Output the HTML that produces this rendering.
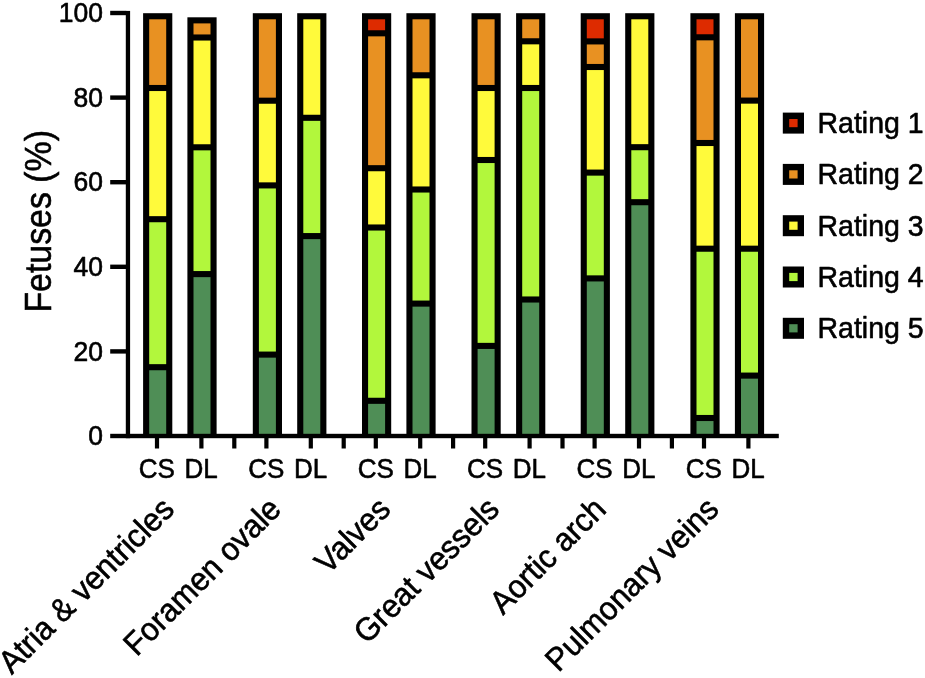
<!DOCTYPE html>
<html lang="en"><head><meta charset="utf-8"><title>Fetuses rating chart</title>
<style>html,body{margin:0;padding:0;background:#fff}body{width:925px;height:678px;overflow:hidden}svg{display:block}text{font-family:"Liberation Sans",Arial,Helvetica,sans-serif;fill:#000}</style></head><body>
<svg width="925" height="678" viewBox="0 0 925 678">
<rect width="925" height="678" fill="#fff"/>
<g>
<rect x="143.10" y="13.20" width="29.2" height="422.80" fill="#000"/>
<rect x="149.20" y="19.30" width="17.00" height="65.65" fill="#E89122"/>
<rect x="149.20" y="91.05" width="17.00" height="125.10" fill="#FFFA3B"/>
<rect x="149.20" y="222.25" width="17.00" height="141.90" fill="#B2F73C"/>
<rect x="149.20" y="370.25" width="17.00" height="65.75" fill="#4F8E56"/>
<rect x="187.40" y="17.30" width="29.2" height="418.70" fill="#000"/>
<rect x="193.50" y="23.40" width="17.00" height="11.05" fill="#E89122"/>
<rect x="193.50" y="40.55" width="17.00" height="103.70" fill="#FFFA3B"/>
<rect x="193.50" y="150.35" width="17.00" height="120.70" fill="#B2F73C"/>
<rect x="193.50" y="277.15" width="17.00" height="158.85" fill="#4F8E56"/>
<rect x="252.80" y="13.20" width="29.2" height="422.80" fill="#000"/>
<rect x="258.90" y="19.30" width="17.00" height="78.35" fill="#E89122"/>
<rect x="258.90" y="103.75" width="17.00" height="78.60" fill="#FFFA3B"/>
<rect x="258.90" y="188.45" width="17.00" height="163.10" fill="#B2F73C"/>
<rect x="258.90" y="357.65" width="17.00" height="78.35" fill="#4F8E56"/>
<rect x="297.20" y="13.20" width="29.2" height="422.80" fill="#000"/>
<rect x="303.30" y="19.30" width="17.00" height="95.45" fill="#FFFA3B"/>
<rect x="303.30" y="120.85" width="17.00" height="112.20" fill="#B2F73C"/>
<rect x="303.30" y="239.15" width="17.00" height="196.85" fill="#4F8E56"/>
<rect x="362.00" y="13.20" width="29.2" height="422.80" fill="#000"/>
<rect x="368.10" y="19.30" width="17.00" height="10.95" fill="#DD2B00"/>
<rect x="368.10" y="36.35" width="17.00" height="128.80" fill="#E89122"/>
<rect x="368.10" y="171.25" width="17.00" height="53.20" fill="#FFFA3B"/>
<rect x="368.10" y="230.55" width="17.00" height="167.20" fill="#B2F73C"/>
<rect x="368.10" y="403.85" width="17.00" height="32.15" fill="#4F8E56"/>
<rect x="406.40" y="13.20" width="29.2" height="422.80" fill="#000"/>
<rect x="412.50" y="19.30" width="17.00" height="52.95" fill="#E89122"/>
<rect x="412.50" y="78.35" width="17.00" height="108.10" fill="#FFFA3B"/>
<rect x="412.50" y="192.55" width="17.00" height="108.00" fill="#B2F73C"/>
<rect x="412.50" y="306.65" width="17.00" height="129.35" fill="#4F8E56"/>
<rect x="471.50" y="13.20" width="29.2" height="422.80" fill="#000"/>
<rect x="477.60" y="19.30" width="17.00" height="65.65" fill="#E89122"/>
<rect x="477.60" y="91.05" width="17.00" height="65.90" fill="#FFFA3B"/>
<rect x="477.60" y="163.05" width="17.00" height="179.80" fill="#B2F73C"/>
<rect x="477.60" y="348.95" width="17.00" height="87.05" fill="#4F8E56"/>
<rect x="516.10" y="13.20" width="29.2" height="422.80" fill="#000"/>
<rect x="522.20" y="19.30" width="17.00" height="18.95" fill="#E89122"/>
<rect x="522.20" y="44.35" width="17.00" height="40.60" fill="#FFFA3B"/>
<rect x="522.20" y="91.05" width="17.00" height="205.40" fill="#B2F73C"/>
<rect x="522.20" y="302.55" width="17.00" height="133.45" fill="#4F8E56"/>
<rect x="580.70" y="13.20" width="29.2" height="422.80" fill="#000"/>
<rect x="586.80" y="19.30" width="17.00" height="19.05" fill="#DD2B00"/>
<rect x="586.80" y="44.45" width="17.00" height="19.50" fill="#E89122"/>
<rect x="586.80" y="70.05" width="17.00" height="99.50" fill="#FFFA3B"/>
<rect x="586.80" y="175.65" width="17.00" height="99.70" fill="#B2F73C"/>
<rect x="586.80" y="281.45" width="17.00" height="154.55" fill="#4F8E56"/>
<rect x="625.20" y="13.20" width="29.2" height="422.80" fill="#000"/>
<rect x="631.30" y="19.30" width="17.00" height="124.85" fill="#FFFA3B"/>
<rect x="631.30" y="150.25" width="17.00" height="48.90" fill="#B2F73C"/>
<rect x="631.30" y="205.25" width="17.00" height="230.75" fill="#4F8E56"/>
<rect x="690.40" y="13.20" width="29.2" height="422.80" fill="#000"/>
<rect x="696.50" y="19.30" width="17.00" height="14.95" fill="#DD2B00"/>
<rect x="696.50" y="40.35" width="17.00" height="99.60" fill="#E89122"/>
<rect x="696.50" y="146.05" width="17.00" height="99.60" fill="#FFFA3B"/>
<rect x="696.50" y="251.75" width="17.00" height="163.20" fill="#B2F73C"/>
<rect x="696.50" y="421.05" width="17.00" height="14.95" fill="#4F8E56"/>
<rect x="734.90" y="13.20" width="29.2" height="422.80" fill="#000"/>
<rect x="741.00" y="19.30" width="17.00" height="78.25" fill="#E89122"/>
<rect x="741.00" y="103.65" width="17.00" height="142.00" fill="#FFFA3B"/>
<rect x="741.00" y="251.75" width="17.00" height="120.80" fill="#B2F73C"/>
<rect x="741.00" y="378.65" width="17.00" height="57.35" fill="#4F8E56"/>
</g>
<g fill="#000">
<rect x="125.8" y="10.9" width="4.3" height="427.3"/>
<rect x="110.2" y="433.8" width="668.6" height="4.4"/>
<rect x="110.2" y="349.20" width="16" height="4.4"/>
<rect x="110.2" y="264.60" width="16" height="4.4"/>
<rect x="110.2" y="180.00" width="16" height="4.4"/>
<rect x="110.2" y="95.40" width="16" height="4.4"/>
<rect x="110.2" y="10.80" width="16" height="4.4"/>
<rect x="154.90" y="436" width="4.2" height="12.5"/>
<rect x="199.30" y="436" width="4.2" height="12.5"/>
<rect x="232.20" y="436" width="4.2" height="12.5"/>
<rect x="264.30" y="436" width="4.2" height="12.5"/>
<rect x="308.70" y="436" width="4.2" height="12.5"/>
<rect x="341.60" y="436" width="4.2" height="12.5"/>
<rect x="373.70" y="436" width="4.2" height="12.5"/>
<rect x="418.10" y="436" width="4.2" height="12.5"/>
<rect x="451.00" y="436" width="4.2" height="12.5"/>
<rect x="483.10" y="436" width="4.2" height="12.5"/>
<rect x="527.50" y="436" width="4.2" height="12.5"/>
<rect x="560.40" y="436" width="4.2" height="12.5"/>
<rect x="592.50" y="436" width="4.2" height="12.5"/>
<rect x="636.90" y="436" width="4.2" height="12.5"/>
<rect x="669.80" y="436" width="4.2" height="12.5"/>
<rect x="701.90" y="436" width="4.2" height="12.5"/>
<rect x="746.30" y="436" width="4.2" height="12.5"/>
</g>
<g stroke="#000" stroke-width="0.6" stroke-linejoin="round">
<text transform="translate(103.00,445.20) scale(0.9569,1)" font-size="27.69" text-anchor="end">0</text>
<text transform="translate(103.00,360.60) scale(0.9569,1)" font-size="27.69" text-anchor="end">20</text>
<text transform="translate(103.00,276.00) scale(0.9569,1)" font-size="27.69" text-anchor="end">40</text>
<text transform="translate(103.00,191.40) scale(0.9569,1)" font-size="27.69" text-anchor="end">60</text>
<text transform="translate(103.00,106.80) scale(0.9569,1)" font-size="27.69" text-anchor="end">80</text>
<text transform="translate(103.00,22.20) scale(0.9569,1)" font-size="27.69" text-anchor="end">100</text>
<text transform="translate(50.50,221.30) rotate(-90) scale(0.9390,1)" font-size="36.10" text-anchor="middle">Fetuses (%)</text>
<text transform="translate(156.90,478.00) scale(0.9569,1)" font-size="27.17" text-anchor="middle">CS</text>
<text transform="translate(201.20,478.00) scale(0.9569,1)" font-size="27.17" text-anchor="middle">DL</text>
<text transform="translate(266.30,478.00) scale(0.9569,1)" font-size="27.17" text-anchor="middle">CS</text>
<text transform="translate(310.60,478.00) scale(0.9569,1)" font-size="27.17" text-anchor="middle">DL</text>
<text transform="translate(375.70,478.00) scale(0.9569,1)" font-size="27.17" text-anchor="middle">CS</text>
<text transform="translate(420.00,478.00) scale(0.9569,1)" font-size="27.17" text-anchor="middle">DL</text>
<text transform="translate(485.10,478.00) scale(0.9569,1)" font-size="27.17" text-anchor="middle">CS</text>
<text transform="translate(529.40,478.00) scale(0.9569,1)" font-size="27.17" text-anchor="middle">DL</text>
<text transform="translate(594.50,478.00) scale(0.9569,1)" font-size="27.17" text-anchor="middle">CS</text>
<text transform="translate(638.80,478.00) scale(0.9569,1)" font-size="27.17" text-anchor="middle">DL</text>
<text transform="translate(703.90,478.00) scale(0.9569,1)" font-size="27.17" text-anchor="middle">CS</text>
<text transform="translate(748.20,478.00) scale(0.9569,1)" font-size="27.17" text-anchor="middle">DL</text>
<text transform="translate(176.00,511.00) rotate(-45) scale(0.9569,1)" font-size="32.39" text-anchor="end">Atria &amp; ventricles</text>
<text transform="translate(282.80,511.00) rotate(-45) scale(0.9569,1)" font-size="32.39" text-anchor="end">Foramen ovale</text>
<text transform="translate(392.20,511.00) rotate(-45) scale(0.9569,1)" font-size="32.39" text-anchor="end">Valves</text>
<text transform="translate(501.00,511.00) rotate(-45) scale(0.9569,1)" font-size="32.39" text-anchor="end">Great vessels</text>
<text transform="translate(607.60,511.00) rotate(-45) scale(0.9569,1)" font-size="32.39" text-anchor="end">Aortic arch</text>
<text transform="translate(720.50,511.00) rotate(-45) scale(0.9569,1)" font-size="32.39" text-anchor="end">Pulmonary veins</text>
</g>
<rect x="782.8" y="112.60" width="21.2" height="21" fill="#000"/>
<rect x="789.2" y="119.00" width="8.4" height="8.2" fill="#DD2B00"/>
<rect x="782.8" y="163.90" width="21.2" height="21" fill="#000"/>
<rect x="789.2" y="170.30" width="8.4" height="8.2" fill="#E89122"/>
<rect x="782.8" y="215.20" width="21.2" height="21" fill="#000"/>
<rect x="789.2" y="221.60" width="8.4" height="8.2" fill="#FFFA3B"/>
<rect x="782.8" y="266.50" width="21.2" height="21" fill="#000"/>
<rect x="789.2" y="272.90" width="8.4" height="8.2" fill="#B2F73C"/>
<rect x="782.8" y="317.80" width="21.2" height="21" fill="#000"/>
<rect x="789.2" y="324.20" width="8.4" height="8.2" fill="#4F8E56"/>
<g stroke="#000" stroke-width="0.6" stroke-linejoin="round">
<text transform="translate(817.50,133.10) scale(0.9569,1)" font-size="29.78" text-anchor="start">Rating 1</text>
<text transform="translate(817.50,184.40) scale(0.9569,1)" font-size="29.78" text-anchor="start">Rating 2</text>
<text transform="translate(817.50,235.70) scale(0.9569,1)" font-size="29.78" text-anchor="start">Rating 3</text>
<text transform="translate(817.50,287.00) scale(0.9569,1)" font-size="29.78" text-anchor="start">Rating 4</text>
<text transform="translate(817.50,338.30) scale(0.9569,1)" font-size="29.78" text-anchor="start">Rating 5</text>
</g>
</svg></body></html>
